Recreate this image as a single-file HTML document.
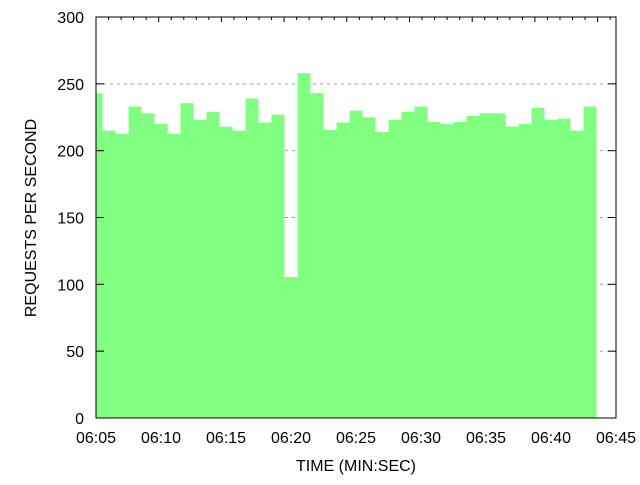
<!DOCTYPE html>
<html><head><meta charset="utf-8"><style>
html,body{margin:0;padding:0;background:#fff}
svg text{font-family:"Liberation Sans",sans-serif;font-size:16px;fill:#000}
</style></head><body>
<svg id="chart" width="640" height="480" viewBox="0 0 640 480" xmlns="http://www.w3.org/2000/svg">
<g id="grid"></g>
<g id="bars"></g>
<g id="axes"></g>
<text x="356" y="471" text-anchor="middle">TIME (MIN:SEC)</text>
<text transform="translate(36,218) rotate(-90)" text-anchor="middle">REQUESTS PER SECOND</text>
</svg>
<script>
const values = [243,215,212.5,233,228,220,212.5,235.5,223,229,218,215,239,221,227,105.5,258,243,215.5,221,230,225,214,223,229,233,221.5,220,221.5,226,228,228,218,220,232,223,224,215,233];
const xTickLabels = ["06:05","06:10","06:15","06:20","06:25","06:30","06:35","06:40","06:45"];
const xTickSeconds = [0,5,10,15,20,25,30,35,40];
const yTicks = [0,50,100,150,200,250,300];
const NS="http://www.w3.org/2000/svg";
const L=96,R=616,T=17,B=418;
const xs=s=>L+(R-L)*s/40;
const ys=v=>B-(B-T)*v/300;
function mk(tag,attrs,parent){const e=document.createElementNS(NS,tag);for(const k in attrs)e.setAttribute(k,attrs[k]);parent.appendChild(e);return e;}
const grid=document.getElementById('grid'),bars=document.getElementById('bars'),axes=document.getElementById('axes');
yTicks.forEach(v=>{
  if(v>0&&v<300){const g=mk('line',{x1:L,x2:R,y1:ys(v),y2:ys(v),stroke:'#a0a0a0','stroke-dasharray':'3,4'},grid);
  
  }
});
values.forEach((v,i)=>{
  const x0=Math.max(L,xs(i-0.5)),x1=xs(i+0.5);
  const r=mk('rect',{x:x0,y:ys(v),width:x1-x0,height:B-ys(v),fill:'#80ff80'},bars);
  
  
});
const bd=mk('rect',{x:L,y:T,width:R-L,height:B-T,fill:'none',stroke:'#000','stroke-width':1},axes);


yTicks.forEach(v=>{
  mk('line',{x1:L,x2:L+8,y1:ys(v),y2:ys(v),stroke:'#000'},axes);
  mk('line',{x1:R-8,x2:R,y1:ys(v),y2:ys(v),stroke:'#000'},axes);
  const t=mk('text',{x:L-12,y:ys(v)+6,'text-anchor':'end'},axes);t.textContent=v;
  
  
});
// top secondary axis ticks
for(let k=1;k*12.54<R-L;k++){
  const x=L+k*12.54, major=(k%5===0);
  mk('line',{x1:x,x2:x,y1:T,y2:T+(major?5:3),stroke:'#000'},axes);
}
xTickSeconds.forEach((s,i)=>{
  const t=mk('text',{x:xs(s),y:443,'text-anchor':'middle'},axes);t.textContent=xTickLabels[i];
  
  
});
</script>
</body></html>
